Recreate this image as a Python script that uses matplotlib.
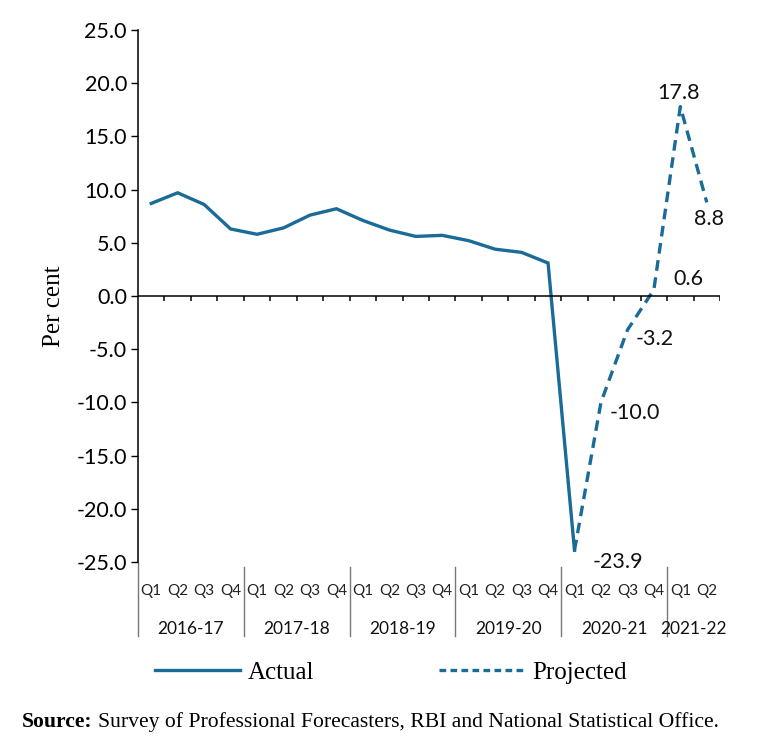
import matplotlib
matplotlib.use("Agg")
import matplotlib.pyplot as plt
import matplotlib.transforms as mtransforms
from matplotlib.lines import Line2D

# quarterly GDP growth (per cent)
years = ["2016-17", "2017-18", "2018-19", "2019-20", "2020-21", "2021-22"]
quarters_per_year = [4, 4, 4, 4, 4, 2]
actual = [8.7, 9.7, 8.6, 6.3, 5.8, 6.4, 7.6, 8.2, 7.1, 6.2, 5.6, 5.7,
          5.2, 4.4, 4.1, 3.1, -23.9]
projected = [-23.9, -10.0, -3.2, 0.6, 17.8, 8.8]
proj_labels = ["-23.9", "-10.0", "-3.2", "0.6", "17.8", "8.8"]
# label offsets in pixels (dx, dy) and alignment for the data labels
label_pos = [(18, -12, "left"), (9, -11, "left"), (8, -9, "left"),
             (20, 11, "left"), (-2, 14, "center"), (2, -17, "center")]

blue = "#1a6b97"
sans = "Lato"
serif = "Liberation Serif"

quarter_names = []
for n in quarters_per_year:
    quarter_names += ["Q%d" % (k + 1) for k in range(n)]
n_q = len(quarter_names)
x_actual = [i + 0.5 for i in range(len(actual))]
x_proj = [len(actual) - 1 + i + 0.5 for i in range(len(projected))]

fig = plt.figure(figsize=(7.59, 7.42), dpi=100)
ax = fig.add_axes([138 / 759, 1 - 562 / 742, (720 - 138) / 759, 532 / 742])

ax.plot(x_actual, actual, color=blue, lw=2.4, solid_joinstyle="miter")
ax.plot(x_proj, projected, color=blue, lw=2.4, ls=(0, (3.2, 2.0)))

for x, v, lab, (dx, dy, ha) in zip(x_proj, projected, proj_labels, label_pos):
    ax.annotate(lab, (x, v), xytext=(dx, dy), textcoords="offset pixels",
                ha=ha, va="center", fontsize=15.5, family=sans, color="#111111")

ax.set_xlim(0, n_q)
ax.set_ylim(-25, 25)
ax.set_yticks(range(-25, 26, 5))
ax.set_yticklabels(["%.1f" % t for t in range(-25, 26, 5)], family=sans, fontsize=15.5)
ax.tick_params(axis="y", length=5, width=1, pad=3, colors="black")
ax.set_xticks([])
for s in ["top", "right", "bottom"]:
    ax.spines[s].set_visible(False)
ax.spines["left"].set_linewidth(1.1)

# zero line with quarter ticks
ax.axhline(0, color="black", lw=1.1)
ax.vlines(range(1, n_q + 1), -0.5, 0, color="black", lw=1.1)

ax.set_ylabel("Per cent", family=serif, fontsize=18)
ax.yaxis.set_label_coords(-0.125, 0.48)

# category table below the axes
trans = mtransforms.blended_transform_factory(ax.transData, ax.transAxes)
for i, q in enumerate(quarter_names):
    ax.text(i + 0.5, -0.055, q, transform=trans, ha="center", va="center",
            family=sans, fontsize=11, color="#222222")
start = 0
for yr, n in zip(years, quarters_per_year):
    ax.text(start + n / 2, -0.125, yr, transform=trans, ha="center", va="center",
            family=sans, fontsize=12.5, color="#111111")
    if start > 0:
        ax.plot([start, start], [-0.01, -0.14], transform=trans, color="#777777",
                lw=1, clip_on=False)
    start += n
ax.plot([0, 0], [0, -0.14], transform=trans, color="#777777", lw=1, clip_on=False)

handles = [Line2D([], [], color=blue, lw=2.4),
           Line2D([], [], color=blue, lw=2.4, ls=(0, (2.0, 1.3)))]
fig.legend(handles, ["Actual", "Projected"], loc="center", bbox_to_anchor=(0.515, 0.093),
           ncol=2, frameon=False, handlelength=3.4, handletextpad=0.3, columnspacing=5.0,
           prop={"family": serif, "size": 18})

src = fig.text(22 / 759, 1 - 722 / 742, "Source:", family=serif, fontsize=15.6,
               fontweight="bold", va="center")
fig.canvas.draw()
bb = src.get_window_extent().transformed(fig.transFigure.inverted())
fig.text(bb.x1 + 5 / 759, 1 - 722 / 742,
         "Survey of Professional Forecasters, RBI and National Statistical Office.",
         family=serif, fontsize=15.6, va="center")

fig.savefig("out.png", dpi=100)
